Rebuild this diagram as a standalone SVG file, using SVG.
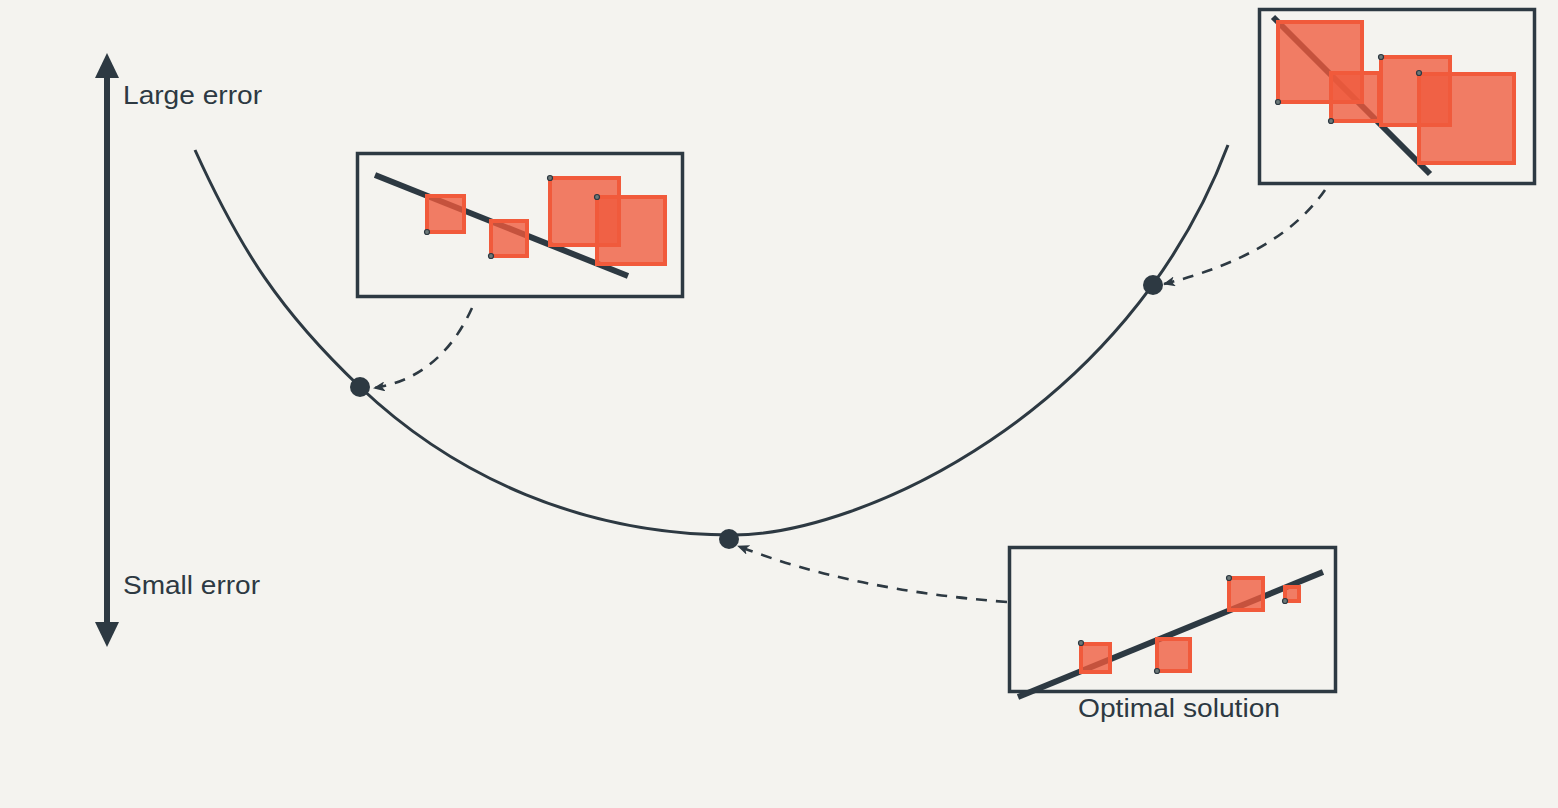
<svg xmlns="http://www.w3.org/2000/svg" width="1558" height="808" viewBox="0 0 1558 808">
<defs>
<style>
.bg{fill:#f4f3ef}
.ink{stroke:#2d3942;fill:none}
.box{fill:none;stroke:#2d3942;stroke-width:3.5}
.fit{stroke:#2d3942;stroke-width:6;fill:none}
.sq{fill:#f05a3c;fill-opacity:0.78;stroke:#f15a3b;stroke-width:4}
.pt{fill:#6c7878;stroke:#2d3942;stroke-width:1.2}
.dot{fill:#2d3942}
.lbl{font-family:"Liberation Sans",Arial,Helvetica,sans-serif;font-size:25px;fill:#2d3942}
.dash{stroke:#2d3942;stroke-width:2.6;fill:none;stroke-dasharray:11 9}
</style>
<marker id="bigHead" viewBox="0 0 25 24" refX="2" refY="12" markerWidth="25" markerHeight="24" markerUnits="userSpaceOnUse" orient="auto-start-reverse">
<path d="M0,0 L25,12 L0,24 Z" fill="#2d3942"/>
</marker>
<marker id="smallHead" viewBox="0 0 12 10" refX="11" refY="5" markerWidth="12" markerHeight="10" markerUnits="userSpaceOnUse" orient="auto">
<path d="M0,0 L12,5 L0,10 L3,5 Z" fill="#2d3942"/>
</marker>
</defs>
<rect class="bg" x="0" y="0" width="1558" height="808"/>

<g id="axis">
<line x1="107" y1="76" x2="107" y2="624" stroke="#2d3942" stroke-width="6" marker-start="url(#bigHead)" marker-end="url(#bigHead)"/>
<text class="lbl" x="123" y="104" textLength="139" lengthAdjust="spacingAndGlyphs">Large error</text>
<text class="lbl" x="123" y="594" textLength="137" lengthAdjust="spacingAndGlyphs">Small error</text>
</g>

<g id="error-curve">
<path class="ink" stroke-width="3" d="M195,150 C240.5,250.1 280.3,311.2 360,387 C454.3,476.6 583,535 733,535 C860,535 1127,413 1228,145"/>
</g>

<g id="points">
<circle id="point-left" class="dot" cx="360" cy="387" r="10"/>
<circle id="point-bottom" class="dot" cx="729" cy="539" r="10"/>
<circle id="point-right" class="dot" cx="1153" cy="285" r="10"/>
</g>

<g id="connectors">
<path class="dash" d="M472,308 Q440,378 374,388" marker-end="url(#smallHead)"/>
<path class="dash" d="M1325,190 Q1280,255 1164,284" marker-end="url(#smallHead)"/>
<path class="dash" d="M1007,602 Q850,590 738,546" marker-end="url(#smallHead)"/>
</g>

<g id="inset-left">
<rect class="box" x="357.5" y="153.5" width="325" height="143"/>
<line class="fit" x1="375" y1="175" x2="628" y2="276"/>
<rect class="sq" x="427" y="196" width="37" height="36"/>
<rect class="sq" x="491" y="221" width="36" height="35"/>
<rect class="sq" x="550" y="178" width="69" height="67"/>
<rect class="sq" x="597" y="197" width="68" height="67"/>
<circle class="pt" cx="427" cy="232" r="2.5"/>
<circle class="pt" cx="491" cy="256" r="2.5"/>
<circle class="pt" cx="550" cy="178" r="2.5"/>
<circle class="pt" cx="597" cy="197" r="2.5"/>
</g>

<g id="inset-top-right">
<rect class="box" x="1259.5" y="9.5" width="275" height="174"/>
<line class="fit" x1="1273" y1="17" x2="1430" y2="174"/>
<rect class="sq" x="1278" y="22" width="84" height="80"/>
<rect class="sq" x="1331" y="73" width="48" height="48"/>
<rect class="sq" x="1381" y="57" width="69" height="68"/>
<rect class="sq" x="1419" y="74" width="95" height="89"/>
<circle class="pt" cx="1278" cy="102" r="2.5"/>
<circle class="pt" cx="1331" cy="121" r="2.5"/>
<circle class="pt" cx="1381" cy="57" r="2.5"/>
<circle class="pt" cx="1419" cy="73" r="2.5"/>
</g>

<g id="inset-optimal">
<rect class="box" x="1009.5" y="547.5" width="326" height="144"/>
<line class="fit" x1="1018" y1="697" x2="1323" y2="572"/>
<rect class="sq" x="1081" y="644" width="29" height="28"/>
<rect class="sq" x="1157" y="639" width="33" height="32"/>
<rect class="sq" x="1229" y="578" width="34" height="32"/>
<rect class="sq" x="1285" y="587" width="14" height="14"/>
<circle class="pt" cx="1081" cy="643" r="2.5"/>
<circle class="pt" cx="1157" cy="671" r="2.5"/>
<circle class="pt" cx="1229" cy="578" r="2.5"/>
<circle class="pt" cx="1285" cy="601" r="2.5"/>
<text class="lbl" x="1078" y="717" textLength="202" lengthAdjust="spacingAndGlyphs">Optimal solution</text>
</g>
</svg>
